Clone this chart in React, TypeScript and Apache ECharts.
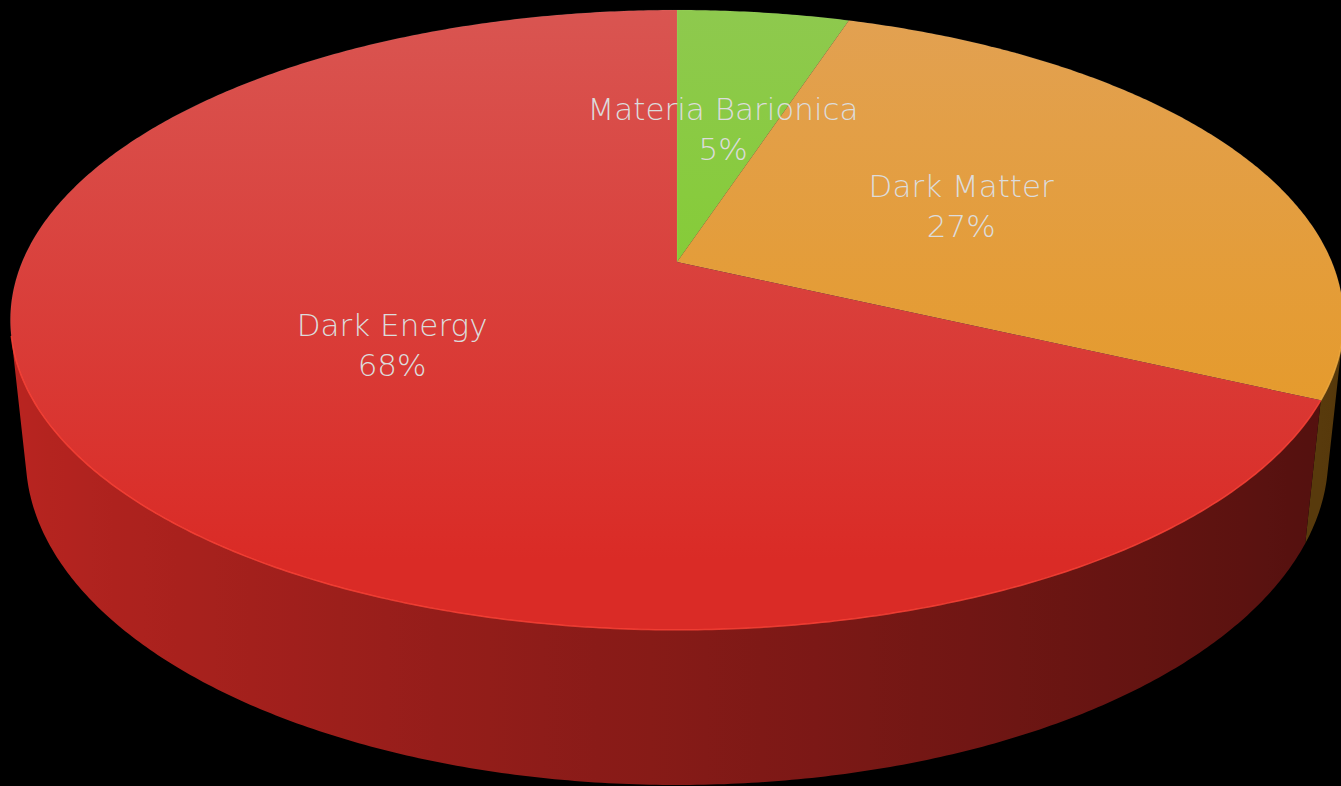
import React, { useEffect, useRef } from "react";
import * as echarts from "echarts";

// ---- data ----
const categories = ["Materia Barionica", "Dark Matter", "Dark Energy"];
const values = [5, 27, 68];
const labelValues = ["5%", "27%", "68%"];

// ---- style ----
const topColors = [
  ["#8ec94e", "#7ccf1e"],
  ["#e2a152", "#e6981e"],
  ["#d95551", "#da2b26"],
];
const sideColors = ["#7ccf1e", "#e6981e", "#da2b26"];
const rimColors = ["#9be04a", "#f2ad40", "#ff4236"];

// camera / layout constants
const CX = 677;
const CY = 262;
const F = 3117;
const D = 4.76;
const SA = 0.4567;
const CA = 0.8896;
const H = 0.237;
const LABEL_R = 0.49;

function proj(X: number, Y: number, Z: number): [number, number] {
  const vx = X;
  const vy = Y - D * SA;
  const vz = Z - D * CA;
  const depth = -vy * SA - vz * CA;
  const up = vy * CA - vz * SA;
  return [CX + (F * vx) / depth, CY - (F * up) / depth];
}

const deg = Math.PI / 180;
function rim(phiDeg: number, r = 1, y = 0): [number, number] {
  const p = phiDeg * deg;
  return proj(r * Math.sin(p), y, -r * Math.cos(p));
}

const total = values.reduce((a, b) => a + b, 0);
const starts: number[] = [];
const ends: number[] = [];
{
  let acc = 0;
  values.forEach((v) => {
    starts.push((acc / total) * 360);
    acc += v;
    ends.push((acc / total) * 360);
  });
}

function shade(hex: string, f: number): string {
  const n = parseInt(hex.slice(1), 16);
  const r = Math.min(255, Math.round(((n >> 16) & 255) * f));
  const g = Math.min(255, Math.round(((n >> 8) & 255) * f));
  const b = Math.min(255, Math.round((n & 255) * f));
  return `rgb(${r},${g},${b})`;
}

// visible wall range
const visLimit = Math.acos(-1 / (D * CA)) / deg; // ~103.6

function arcSteps(a: number, b: number, step: number): number[] {
  const out: number[] = [];
  const n = Math.max(1, Math.ceil((b - a) / step));
  for (let i = 0; i <= n; i++) out.push(a + ((b - a) * i) / n);
  return out;
}

const shadeAt = (phi: number) => 0.61 + 0.25 * -Math.sin(phi * deg);

export default function App() {
  const ref = useRef<HTMLDivElement>(null);
  useEffect(() => {
    document.body.style.margin = "0";
    document.body.style.background = "#000";
    if (!ref.current) return;
    const chart = echarts.init(ref.current, undefined, { renderer: "svg" });

    const data = values.map((v, i) => ({ name: categories[i], value: v }));

    const wallsRender = (params: any) => {
      const i = params.dataIndex;
      const a = Math.max(starts[i], visLimit);
      const b = Math.min(ends[i], 360 - visLimit);
      if (b <= a) return { type: "group", children: [] };
      const phis = arcSteps(a, b, 0.5);
      const topPts = phis.map((p) => rim(p));
      const botPts = phis.map((p) => rim(p, 1, -H)).reverse();
      const xs = topPts.map((p) => p[0]);
      const xMin = Math.min(...xs);
      const xMax = Math.max(...xs);
      const span = Math.max(1, xMax - xMin);
      const sp = arcSteps(a, b, 4);
      const stops = sp
        .map((p) => ({ x: rim(p)[0], c: shade(sideColors[i], shadeAt(p)) }))
        .sort((u, v) => u.x - v.x)
        .map((s) => ({ offset: Math.min(1, Math.max(0, (s.x - xMin) / span)), color: s.c }));
      return {
        type: "polygon",
        shape: { points: topPts.concat(botPts) },
        style: {
          fill: {
            type: "linear",
            x: xMin,
            y: 0,
            x2: xMin + span,
            y2: 0,
            global: true,
            colorStops: stops,
          },
        },
        silent: true,
      };
    };

    const topsRender = (params: any) => {
      const i = params.dataIndex;
      const phis = arcSteps(starts[i], ends[i], 0.5);
      const pts: [number, number][] = [proj(0, 0, 0)];
      phis.forEach((p) => pts.push(rim(p)));
      const children: any[] = [
        {
          type: "polygon",
          shape: { points: pts },
          style: {
            fill: {
              type: "linear",
              x: 0,
              y: 10,
              x2: 0,
              y2: 560,
              global: true,
              colorStops: [
                { offset: 0, color: topColors[i][0] },
                { offset: 1, color: topColors[i][1] },
              ],
            },
            stroke: "rgba(255,255,255,0.06)",
            lineWidth: 1,
          },
          silent: true,
        },
      ];
      const a = Math.max(starts[i], visLimit);
      const b = Math.min(ends[i], 360 - visLimit);
      if (b > a) {
        children.push({
          type: "polyline",
          shape: { points: arcSteps(a, b, 0.5).map((p) => rim(p)) },
          style: { stroke: rimColors[i], lineWidth: 1.5, fill: null, opacity: 0.8 },
          silent: true,
        });
      }
      return { type: "group", children };
    };

    const labelsRender = (params: any) => {
      const i = params.dataIndex;
      const mid = (starts[i] + ends[i]) / 2;
      const [x, y] = rim(mid, LABEL_R);
      return {
        type: "text",
        x,
        y,
        style: {
          text: categories[i] + "\n" + labelValues[i],
          fill: "#dcdcdc",
          fontSize: 31,
          fontFamily: "'DejaVu Sans', sans-serif",
          fontWeight: 200,
          lineHeight: 40,
          align: "center",
          verticalAlign: "middle",
        },
        silent: true,
      };
    };

    chart.setOption({
      animation: false,
      backgroundColor: "#000000",
      series: [
        { type: "custom", coordinateSystem: "none", z: 1, renderItem: wallsRender, data },
        { type: "custom", coordinateSystem: "none", z: 2, renderItem: topsRender, data },
        { type: "custom", coordinateSystem: "none", z: 3, renderItem: labelsRender, data },
      ],
    });
    return () => chart.dispose();
  }, []);
  return (
    <div
      ref={ref}
      style={{ position: "absolute", left: 0, top: 0, width: 1341, height: 786, background: "#000" }}
    />
  );
}
